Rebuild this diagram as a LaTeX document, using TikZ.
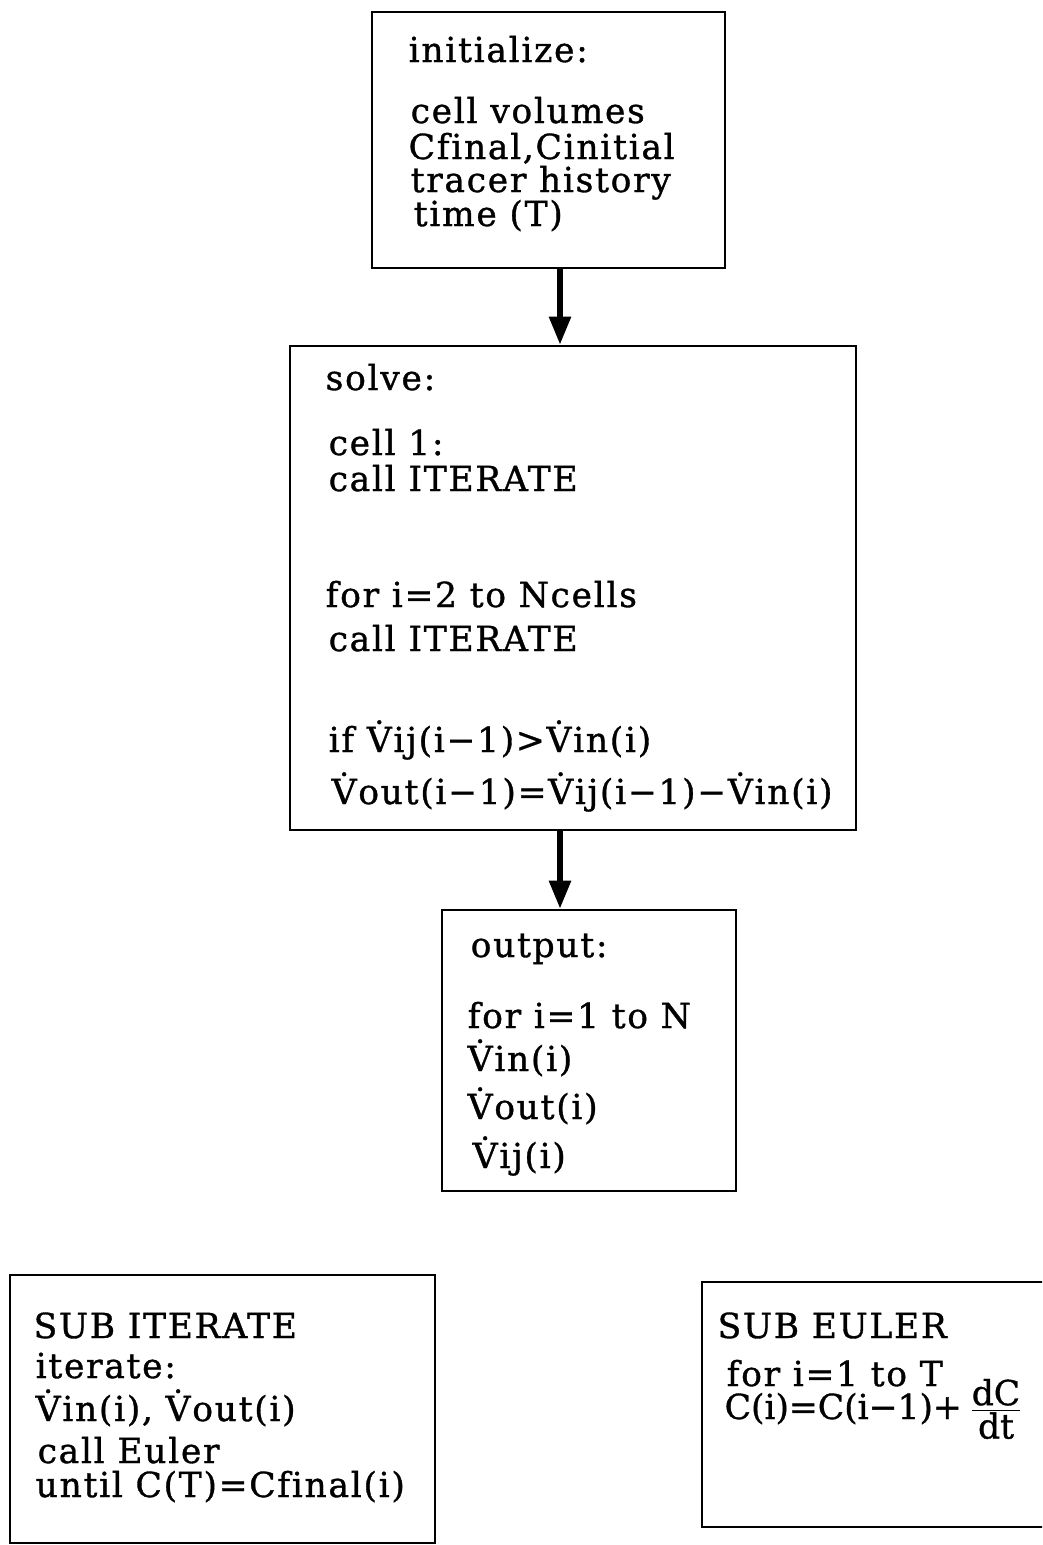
\documentclass[tikz,border=0pt]{standalone}
\usepackage{fontspec}
\setmainfont[LetterSpace=5, Ligatures=NoCommon, FakeBold=1]{DejaVu Serif}
\usetikzlibrary{arrows.meta}
\newcommand\Vd{\.{V}}

\begin{document}
\begin{tikzpicture}[x=0.01cm,y=-0.01cm,
	box/.style={draw, line width=0.7pt, inner sep=0pt},
	txt/.style={anchor=base west, inner sep=0pt},
	arr/.style={line width=1.6pt, -{Triangle[length=8pt,width=6pt]}}]
	\fontsize{9.8}{11}\selectfont
	\useasboundingbox (0,0) rectangle (1042,1545);
	\clip (0,0) rectangle (1042,1545);

	\node[box, minimum width=3.53cm, minimum height=2.56cm] (init) at (548.5,140) {};
	\node[box, minimum width=5.66cm, minimum height=4.84cm] (solve) at (573,588) {};
	\node[box, minimum width=2.94cm, minimum height=2.81cm] (out) at (589,1050.5) {};
	\node[box, minimum width=4.25cm, minimum height=2.68cm] (iter) at (222.5,1409) {};
	\node[box, minimum width=3.58cm, minimum height=2.45cm] (euler) at (881,1404.5) {};

	\coordinate (ax) at (560,0);
	\draw[arr] (init.south -| ax) -- (solve.north -| ax);
	\draw[arr] (solve.south -| ax) -- (out.north -| ax);

	% initialize
	\node[txt] (init1) at (408,62) {initialize:};
	\node[txt] (init2) at (410,123) {cell volumes};
	\node[txt] (init3) at (408,159) {Cfinal,Cinitial};
	\node[txt] (init4) at (410,192) {tracer history};
	\node[txt] (init5) at (413,226) {time (T)};

	% solve
	\node[txt] (solve1) at (325,390) {solve:};
	\node[txt] (solve2) at (328,455) {cell 1:};
	\node[txt] (solve3) at (328,491) {call ITERATE};
	\node[txt] (solve4) at (325,607) {for i=2 to Ncells};
	\node[txt] (solve5) at (328,651) {call ITERATE};
	\node[txt] (solve6) at (328,752) {if \Vd ij(i−1)>\Vd in(i)};
	\node[txt] (solve7) at (331,804) {\Vd out(i−1)=\Vd ij(i−1)−\Vd in(i)};

	% output
	\node[txt] (out1) at (470,957) {output:};
	\node[txt] (out2) at (467,1028) {for i=1 to N};
	\node[txt] (out3) at (467,1071) {\Vd in(i)};
	\node[txt] (out4) at (467,1119) {\Vd out(i)};
	\node[txt] (out5) at (472,1168) {\Vd ij(i)};

	% subroutines
	\node[txt] (iter1) at (33,1338) {SUB ITERATE};
	\node[txt] (iter2) at (35,1378) {iterate:};
	\node[txt] (iter3) at (35,1421) {\Vd in(i), \Vd out(i)};
	\node[txt] (iter4) at (37,1463) {call Euler};
	\node[txt] (iter5) at (35,1497) {until C(T)=Cfinal(i)};

	\node[txt] (eul1) at (717,1338) {SUB EULER};
	\node[txt] (eul2) at (726,1386) {for i=1 to T};
	\node[txt] (eul3) at (724,1419) {\addfontfeature{LetterSpace=0}C(i)=C(i−1)+\,\(\frac{\mbox{dC}}{\mbox{dt}}\)};
\end{tikzpicture}
\end{document}
